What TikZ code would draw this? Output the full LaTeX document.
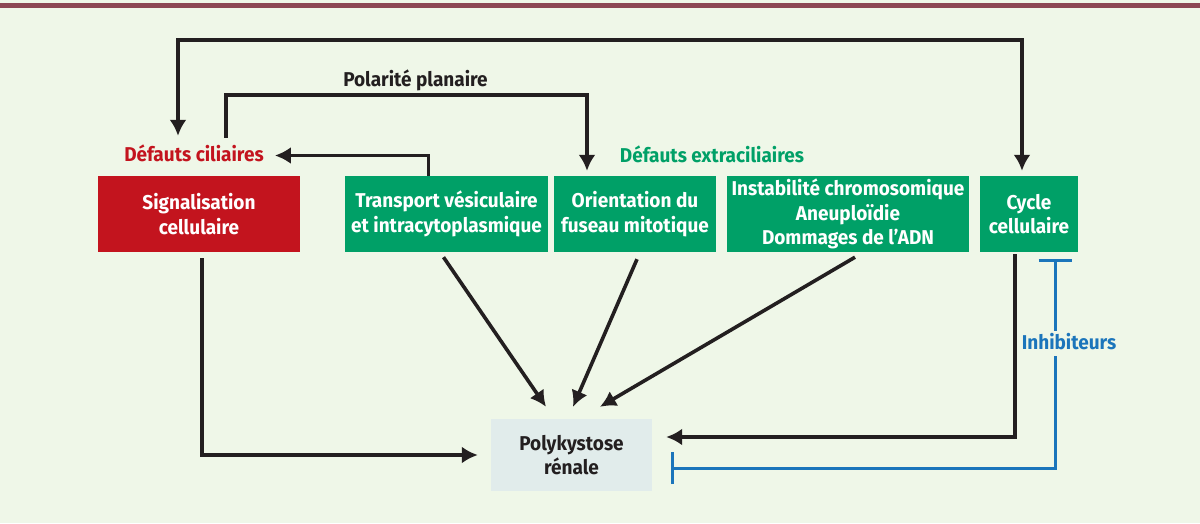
\documentclass[tikz,border=0pt]{standalone}
\usepackage{fontspec}
\setmainfont{Fira Sans}[FakeStretch=0.95]
\usetikzlibrary{arrows.meta}
\definecolor{bgcol}{HTML}{EFF7E8}
\definecolor{topcol}{HTML}{8C4753}
\definecolor{redcol}{HTML}{C3141E}
\definecolor{greencol}{HTML}{00A067}
\definecolor{polycol}{HTML}{E1ECEB}
\definecolor{bluecol}{HTML}{1B75BB}
\definecolor{inkcol}{HTML}{231F20}
\tikzset{ %inner sep = 0.5mm,
  >={Latex[length=16pt,width=17pt]},
  {box/.style}={rectangle, minimum height=76pt, inner sep=0pt,
                align=center, text=white,
                font=\bfseries\fontsize{20}{24.5}\selectfont},
  {red box/.style}={box, fill=redcol},
  {green box/.style}={box, fill=greencol},
  {poly box/.style}={box, fill=polycol, text=inkcol, minimum height=72pt},
  {label/.style}={inner sep=2pt, text height=15pt, text depth=4pt,
                  anchor=base, font=\bfseries\fontsize{20}{24}\selectfont},
  {edge/.style}={draw, line width=3.6pt, inkcol},
  {inhib edge/.style}={draw, line width=3pt, bluecol,
                  {Bar[width=33pt]}-{Bar[width=32pt]}},
}
\begin{document}
\begin{tikzpicture}[x=1pt,y=-1pt]
\fill[bgcol] (0,0) rectangle (1200,523);
\fill[topcol] (0,3) rectangle (1200,7.5);
\useasboundingbox (0,0) rectangle (1200,523);

% boxes
\node[red box, minimum width=202pt] (sig) at (199,214) {Signalisation\\cellulaire};
\node[green box, minimum width=203pt] (trans) at (446.5,214) {Transport vésiculaire\\et intracytoplasmique};
\node[green box, minimum width=162pt] (orient) at (635,214) {Orientation du\\fuseau mitotique};
\node[green box, minimum width=242pt] (instab) at (848,214) {Instabilité chromosomique\\Aneuploïdie\\Dommages de l’ADN};
\node[green box, minimum width=98pt] (cycle) at (1029,214) {Cycle\\cellulaire};
\node[poly box, minimum width=161pt] (poly) at (571.5,455) {Polykystose\\rénale};

% labels
\node[label, text=redcol] (cil) at (194,161) {Défauts ciliaires};
\node[label, text=greencol] (extra) at (712,162) {Défauts extraciliaires};
\node[label, text=inkcol] (polar) at (415.5,86) {Polarité planaire};

\coordinate (topR) at (1022,40);
\coordinate (polR) at (587,95);

% connectors
\draw[edge, <->] ([xshift=-16pt,yshift=8pt]cil.north) |- (topR)
    -- ([xshift=-7pt,yshift=5pt]cycle.north);
\draw[edge, ->] ([xshift=32pt,yshift=6pt]cil.north) |- (polR)
    -- ([xshift=-48pt,yshift=5pt]orient.north);
\draw[edge, ->] ([xshift=-18pt]trans.north) |- ([xshift=9pt]cil.east);
\draw[edge, ->] ([xshift=3pt,yshift=-6pt]sig.south) |- ([xshift=-13pt]poly.west);
\draw[edge, ->] ([xshift=-3pt,yshift=-5pt]trans.south) -- ([xshift=-25.5pt,yshift=12pt]poly.north);
\draw[edge, ->] ([xshift=2pt,yshift=-7pt]orient.south) -- ([xshift=1.5pt,yshift=12pt]poly.north);
\draw[edge, ->] ([xshift=7pt,yshift=-5pt]instab.south) -- ([xshift=28.5pt,yshift=12pt]poly.north);
\draw[edge, ->] ([xshift=-14pt,yshift=-2pt]cycle.south) |- ([xshift=14pt,yshift=18pt]poly.east);

% inhibitors
\draw[inhib edge] ([xshift=26pt,yshift=-7pt]cycle.south) |- ([xshift=19pt,yshift=-13pt]poly.east);
\node[label, text=bluecol, fill=bgcol, inner sep=3pt] (inhib) at (1069,349) {Inhibiteurs};
\end{tikzpicture}
\end{document}
